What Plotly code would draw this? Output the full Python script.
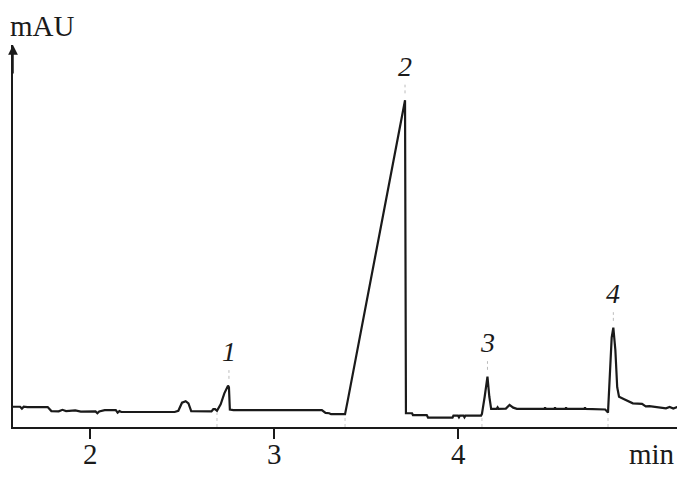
import plotly.graph_objects as go

# chromatogram trace (min, mAU)
time = [1.56, 1.62, 1.63, 1.64, 1.66, 1.77, 1.79, 1.83, 1.85, 1.87, 1.92, 1.95,
        2.03, 2.04, 2.05, 2.08, 2.14, 2.15, 2.16, 2.17, 2.46, 2.48, 2.50, 2.52,
        2.535, 2.55, 2.66, 2.67, 2.68, 2.69, 2.71, 2.73, 2.75, 2.755, 2.76, 2.78,
        3.26, 3.28, 3.30, 3.31, 3.386, 3.40, 3.712, 3.717, 3.75, 3.755, 3.83,
        3.837, 3.97, 3.975, 4.00, 4.005, 4.01, 4.03, 4.035, 4.04, 4.125, 4.13,
        4.145, 4.16, 4.17, 4.18, 4.21, 4.215, 4.22, 4.26, 4.28, 4.30, 4.32,
        4.47, 4.473, 4.477, 4.525, 4.527, 4.53, 4.585, 4.587, 4.59, 4.688, 4.69,
        4.693, 4.80, 4.815, 4.825, 4.835, 4.844, 4.855, 4.865, 4.875, 4.90,
        4.94, 4.95, 5.00, 5.02, 5.04, 5.11, 5.13, 5.15, 5.17, 5.19, 5.23]
signal = [1.7, 1.7, 1.1, 1.7, 1.6, 1.6, 0.3, 0.2, 0.7, 0.3, 0.5, 0.1,
          0.2, -0.4, 0.2, 0.6, 0.6, -0.2, 0.3, 0.0, 0.0, 0.4, 3.0, 3.5,
          2.8, 0.3, 0.2, 0.9, 0.9, 0.4, 2.5, 6.0, 8.5, 8.0, 0.8, 0.6,
          0.6, -0.3, -0.4, -0.7, -0.7, 3.5, 100.6, -0.4, -0.4, -1.0, -1.0,
          -1.8, -1.8, -1.2, -1.2, -1.7, -1.2, -1.2, -1.7, -1.2, -1.2, -0.6,
          5.0, 11.4, 5.0, 1.0, 1.0, 1.5, 1.0, 1.1, 2.3, 1.4, 1.0,
          1.0, 1.5, 1.0, 1.0, 1.5, 1.0, 1.0, 1.5, 1.0, 1.0, 1.5,
          1.0, 0.8, -0.2, 12.0, 24.0, 27.2, 20.0, 8.0, 4.9, 4.2,
          3.2, 2.8, 2.6, 1.8, 1.9, 1.5, 1.2, 1.6, 1.1, 1.6, 1.5]

peak_labels = ["1", "2", "3", "4"]
peak_t = [2.755, 3.712, 4.16, 4.844]
peak_h = [8.5, 100.6, 11.4, 27.2]
start_t = [2.69, 3.386, 4.13, 4.815]
start_h = [0.4, -0.7, -0.6, -0.2]

xticks = [2, 3, 4]
xtick_text = ["2", "3", "4"]

y_min, y_max = -4.84, 118.4
serif = "Liberation Serif, Times New Roman, serif"
ink = "#1a1a1a"

fig = go.Figure()
fig.add_trace(go.Scatter(x=time, y=signal, mode="lines",
                         line=dict(color=ink, width=2.2), hoverinfo="skip"))

# faint markers: above each apex, below each peak start
for t, h in zip(peak_t, peak_h):
    fig.add_shape(type="line", x0=t, x1=t, y0=h + 2.2, y1=h + 5,
                  line=dict(color="#bbbbbb", width=1, dash="dot"))
for t, h in zip(start_t, start_h):
    fig.add_shape(type="line", x0=t, x1=t, y0=y_min, y1=h - 0.6,
                  line=dict(color="#c8c8c8", width=1, dash="dot"))

for lab, t, h in zip(peak_labels, peak_t, peak_h):
    fig.add_annotation(x=t, y=h, text="<i>" + lab + "</i>", showarrow=False, yshift=34,
                       font=dict(family=serif, size=28, color=ink),
                       xanchor="center", yanchor="middle")

# tick labels as annotations, kept inside the bottom edge
for v, s in zip(xticks, xtick_text):
    fig.add_annotation(x=v, xref="x", yref="paper", y=0, yshift=-45, text=s,
                       showarrow=False, xanchor="center", yanchor="bottom",
                       font=dict(family=serif, size=29, color=ink))

# y axis arrow head
fig.add_annotation(xref="paper", yref="paper", x=0, y=1, ax=0, ay=30,
                   showarrow=True, arrowhead=2, arrowsize=1.3, arrowwidth=1.5,
                   arrowcolor=ink, text="")
fig.add_annotation(xref="paper", yref="paper", x=0, y=1, xshift=-5, yshift=37,
                   text="mAU", showarrow=False, xanchor="left", yanchor="top",
                   font=dict(family=serif, size=29, color=ink))
fig.add_annotation(xref="paper", yref="paper", x=1, y=0, yshift=-45,
                   text="min", showarrow=False, xanchor="right", yanchor="bottom",
                   font=dict(family=serif, size=29, color=ink))

# the page has an 8px body margin, so the figure is kept inside the window
fig.update_layout(
    width=669, height=464,
    margin=dict(l=5, r=0, t=37, b=45),
    plot_bgcolor="white", paper_bgcolor="white",
    showlegend=False,
    xaxis=dict(range=[1.5815, 5.19], tickvals=xticks, ticks="outside",
               showticklabels=False,
               ticklen=10, tickwidth=1.5, tickcolor=ink,
               showline=True, linecolor=ink, linewidth=1.5,
               showgrid=False, zeroline=False, automargin=False),
    yaxis=dict(range=[y_min, y_max], showticklabels=False, ticks="",
               showline=True, linecolor=ink, linewidth=1.5,
               showgrid=False, zeroline=False, automargin=False),
)

fig.write_html("out.html")
